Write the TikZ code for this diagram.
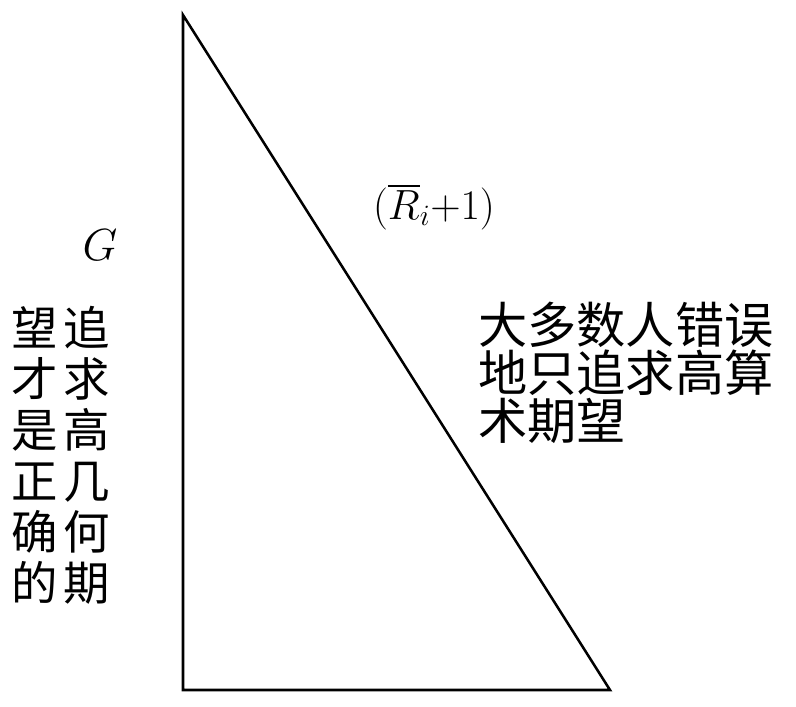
\RequirePackage{fix-cm}
\documentclass[tikz,border=0pt]{standalone}
\usepackage{amsmath}
\usepackage{fontspec}
\newfontfamily\cjk{Noto Sans CJK SC}
\begin{document}
\begin{tikzpicture}[x = 0.025cm, y = -0.025cm,
  cjktext/.style = {font = \fontsize{35}{34.2}\selectfont\cjk, inner sep = 0pt}]
\useasboundingbox (0,0) rectangle (796,706);
\coordinate (top) at (183,15);
\coordinate (bl) at (183,690);
\coordinate (br) at (610,690);
\draw[line width = 1.8pt, line join = miter] (top) -- (bl) -- (br) -- cycle;
\node (g) at (100,245) {\fontsize{32}{32}\selectfont $G$};
\node (r) at (434,207) {\fontsize{30}{30}\selectfont $(\overline{R}_{i}{+}1)$};
\node[cjktext, align = left, anchor = north west] (wrong) at (478,302)
  {大多数人错误\\ 地只追求高算\\ 术期望};
\node[cjktext, font = \fontsize{33}{36.3}\selectfont\cjk, align = center, anchor = north] (colb) at (87,306)
  {追\\ 求\\ 高\\ 几\\ 何\\ 期};
\node[cjktext, font = \fontsize{33}{36.3}\selectfont\cjk, align = center, anchor = north] (cola) at (35,306)
  {望\\ 才\\ 是\\ 正\\ 确\\ 的};
\end{tikzpicture}
\end{document}
